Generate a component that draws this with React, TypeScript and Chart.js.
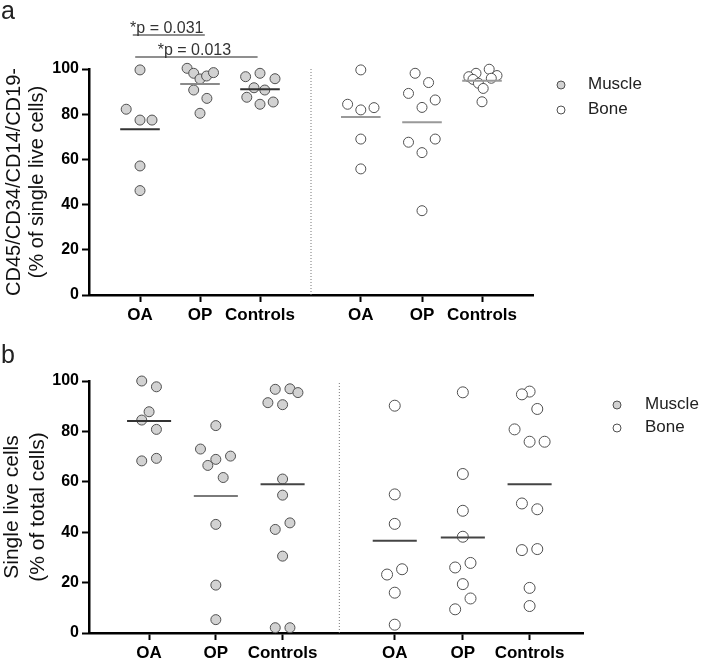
import React, { useEffect, useRef } from 'react';
import { Chart, registerables } from 'chart.js';

Chart.register(...registerables);

const FONT = 'Arial, "Liberation Sans", Helvetica, sans-serif';
Chart.defaults.font.family = FONT;

// ---------- shared categories ----------
const GROUPS = ['OA', 'OP', 'Controls', 'OA', 'OP', 'Controls'];
const GROUP_POS = [1, 2, 3, 4.68, 5.7, 6.7];
const DIVIDER_POS = 3.85;
const SERIES = ['Muscle', 'Bone'];
const Y_TICKS = [0, 20, 40, 60, 80, 100];

// ---------- panel a: CD45/CD34/CD14/CD19- (% of single live cells) ----------
const A_MUSCLE = [
  [99.6, 82.2, 77.4, 77.4, 57.1, 46.2],
  [100.3, 98.1, 95.6, 96.9, 98.4, 90.7, 87.0, 80.4],
  [96.6, 98.1, 95.7, 91.7, 90.7, 87.5, 84.4, 85.4],
];
const A_MUSCLE_JIT = [
  [0, -0.23, 0, 0.2, 0, 0],
  [-0.215, -0.105, 0, 0.11, 0.225, -0.105, 0.115, 0],
  [-0.24, 0, 0.25, -0.1, 0.08, -0.22, 0, 0.22],
];
const A_BONE = [
  [99.6, 84.4, 81.9, 82.9, 69.0, 55.8],
  [98.1, 94.0, 89.2, 86.3, 83.0, 67.6, 69.0, 63.0, 37.3],
  [99.9, 98.1, 96.6, 97.1, 95.4, 95.9, 93.7, 91.4, 85.5],
];
const A_BONE_JIT = [
  [0, -0.22, 0, 0.22, 0, 0],
  [-0.115, 0.11, -0.225, 0.22, 0, -0.225, 0.22, 0, 0],
  [0.12, -0.1, -0.22, 0.25, -0.15, 0.155, -0.06, 0.02, 0],
];
const A_MUSCLE_MEAN = [73.3, 93.4, 91.0];
const A_BONE_MEAN = [78.8, 76.4, 94.8];

// significance annotations (panel a)
const SIG_LABELS = ['*p = 0.031', '*p = 0.013'];
const SIG_X_START = [0.88, 0.92];
const SIG_X_END = [2.08, 2.96];
const SIG_Y = [115.0, 105.3];

// ---------- panel b: Single live cells (% of total cells) ----------
const B_MUSCLE = [
  [100.0, 97.7, 87.8, 84.5, 80.8, 68.3, 69.3],
  [82.3, 73.0, 68.9, 66.5, 70.2, 61.7, 43.1, 19.0, 5.3],
  [96.7, 96.9, 95.4, 91.4, 90.6, 61.1, 54.7, 43.7, 41.1, 30.5, 2.1, 2.1],
];
const B_MUSCLE_JIT = [
  [-0.11, 0.11, 0, -0.11, 0.11, -0.11, 0.11],
  [0, -0.23, 0, -0.12, 0.22, 0.11, 0, 0, 0],
  [-0.11, 0.11, 0.23, -0.22, 0, 0, 0, 0.11, -0.11, 0, -0.11, 0.11],
];
const B_BONE = [
  [90.2, 55.0, 43.3, 23.2, 25.3, 16.0, 3.3],
  [95.5, 63.1, 48.5, 38.2, 26.0, 27.8, 19.4, 13.7, 9.4],
  [95.8, 94.7, 88.9, 80.8, 75.9, 75.9, 51.4, 49.1, 32.9, 33.3, 17.9, 10.7],
];
const B_BONE_JIT = [
  [0, 0, 0, -0.115, 0.11, 0, 0],
  [0, 0, 0, 0, -0.115, 0.115, 0, 0.115, -0.115],
  [0, -0.115, 0.115, -0.225, 0, 0.225, -0.115, 0.115, -0.115, 0.115, 0, 0],
];
const B_MUSCLE_MEAN = [84.1, 54.4, 59.0];
const B_BONE_MEAN = [36.6, 37.9, 59.0];

// ---------- styles ----------
const MUSCLE_FILL = '#d2d2d2';
const BONE_FILL = '#ffffff';
const EDGE = '#505050';
const MEAN_HALF = 0.33;

type PanelCfg = {
  muscle: number[][];
  muscleJit: number[][];
  bone: number[][];
  boneJit: number[][];
  muscleMean: number[];
  boneMean: number[];
  meanColors: string[];
  title: string[];
  titleSize: number;
  titleLH: number;
  titlePad: number;
  xMin: number;
  xMax: number;
  padTop: number;
  padRight: number;
  xAxisHeight: number;
  width: number;
  height: number;
  top: number;
  letter: string;
  letterY: number;
  legendX: number;
  legendY: number[];
  legendGap: number;
  radius: number[];
  sig: boolean;
};

function makePoints(vals: number[][], jit: number[][], offset: number) {
  const pts: { x: number; y: number }[] = [];
  vals.forEach((g, gi) => {
    g.forEach((v, i) => pts.push({ x: GROUP_POS[gi + offset] + jit[gi][i], y: v }));
  });
  return pts;
}

function overlayPlugin(cfg: PanelCfg) {
  return {
    id: 'overlay' + cfg.letter,
    afterDraw(chart: any) {
      const ctx = chart.ctx as CanvasRenderingContext2D;
      const xs = chart.scales.x;
      const ys = chart.scales.y;
      ctx.save();
      // panel letter
      ctx.fillStyle = '#222';
      ctx.font = `25px ${FONT}`;
      ctx.textAlign = 'left';
      ctx.textBaseline = 'alphabetic';
      ctx.fillText(cfg.letter, 1, cfg.letterY);
      // legend
      SERIES.forEach((name, i) => {
        const y = cfg.legendY[i];
        ctx.beginPath();
        ctx.arc(cfg.legendX, y, 4, 0, Math.PI * 2);
        ctx.fillStyle = i === 0 ? MUSCLE_FILL : BONE_FILL;
        ctx.fill();
        ctx.lineWidth = 1;
        ctx.strokeStyle = EDGE;
        ctx.stroke();
        ctx.fillStyle = '#222';
        ctx.font = `17px ${FONT}`;
        ctx.textBaseline = 'middle';
        ctx.textAlign = 'left';
        ctx.fillText(name, cfg.legendX + cfg.legendGap, y - 1);
      });
      // significance labels
      if (cfg.sig) {
        SIG_LABELS.forEach((t, i) => {
          const xc = xs.getPixelForValue((SIG_X_START[i] + SIG_X_END[i]) / 2);
          const yl = ys.getPixelForValue(SIG_Y[i]);
          ctx.font = `16px ${FONT}`;
          ctx.textAlign = 'center';
          ctx.textBaseline = 'alphabetic';
          ctx.fillStyle = '#333';
          ctx.fillText(t, xc - 2, yl - 2.5);
        });
      }
      ctx.restore();
    },
  };
}

function Panel({ cfg }: { cfg: PanelCfg }) {
  const ref = useRef<HTMLCanvasElement | null>(null);
  useEffect(() => {
    if (!ref.current) return;
    const datasets: any[] = [];
    // mean lines (drawn on top -> first)
    const means = [...cfg.muscleMean, ...cfg.boneMean];
    means.forEach((m, gi) => {
      datasets.push({
        type: 'scatter',
        showLine: true,
        data: [
          { x: GROUP_POS[gi] - MEAN_HALF, y: m },
          { x: GROUP_POS[gi] + MEAN_HALF, y: m },
        ],
        borderColor: cfg.meanColors[gi],
        borderWidth: 2,
        pointRadius: 0,
        clip: false,
      });
    });
    // significance bars
    if (cfg.sig) {
      SIG_LABELS.forEach((_, i) => {
        datasets.push({
          type: 'scatter',
          showLine: true,
          data: [
            { x: SIG_X_START[i], y: SIG_Y[i] },
            { x: SIG_X_END[i], y: SIG_Y[i] },
          ],
          borderColor: '#6a6a6a',
          borderWidth: 1.5,
          pointRadius: 0,
          clip: false,
        });
      });
    }
    // points
    datasets.push({
      label: SERIES[0],
      data: makePoints(cfg.muscle, cfg.muscleJit, 0),
      backgroundColor: MUSCLE_FILL,
      borderColor: EDGE,
      borderWidth: 1,
      pointRadius: cfg.radius[0],
      clip: false,
    });
    datasets.push({
      label: SERIES[1],
      data: makePoints(cfg.bone, cfg.boneJit, 3),
      backgroundColor: BONE_FILL,
      borderColor: EDGE,
      borderWidth: 1,
      pointRadius: cfg.radius[1],
      clip: false,
    });
    // divider
    datasets.push({
      type: 'scatter',
      showLine: true,
      data: [
        { x: DIVIDER_POS, y: 0 },
        { x: DIVIDER_POS, y: 100 },
      ],
      borderColor: '#777',
      borderWidth: 1,
      borderDash: [1, 2],
      pointRadius: 0,
    });

    const chart = new Chart(ref.current, {
      type: 'scatter',
      data: { datasets },
      options: {
        responsive: false,
        animation: false,
        events: [],
        layout: { padding: { top: cfg.padTop, right: cfg.padRight, left: 0, bottom: 0 } },
        plugins: { legend: { display: false }, tooltip: { enabled: false } },
        scales: {
          x: {
            type: 'linear',
            min: cfg.xMin,
            max: cfg.xMax,
            afterBuildTicks: (s: any) => {
              s.ticks = GROUP_POS.map((v) => ({ value: v }));
            },
            afterFit: (s: any) => {
              s.height = cfg.xAxisHeight;
            },
            ticks: {
              autoSkip: false,
              maxRotation: 0,
              padding: 3,
              color: '#000',
              font: { size: 17, weight: 'bold' },
              callback: (_v: any, i: number) => GROUPS[i],
            },
            grid: {
              display: true,
              drawOnChartArea: false,
              drawTicks: true,
              tickLength: 7,
              tickColor: '#000',
              tickWidth: 2,
            },
            border: { display: true, color: '#000', width: 2.5 },
          },
          y: {
            type: 'linear',
            min: 0,
            max: 100,
            afterBuildTicks: (s: any) => {
              s.ticks = Y_TICKS.map((v) => ({ value: v }));
            },
            afterFit: (s: any) => {
              s.width = 89;
            },
            ticks: {
              padding: 3,
              color: '#000',
              font: { size: 16, weight: 'bold' },
            },
            grid: {
              display: true,
              drawOnChartArea: false,
              drawTicks: true,
              tickLength: 7,
              tickColor: '#000',
              tickWidth: 2,
            },
            border: { display: true, color: '#000', width: 2.5 },
            title: {
              display: true,
              text: cfg.title,
              color: '#111',
              font: { size: cfg.titleSize, weight: 'normal', lineHeight: cfg.titleLH },
              padding: { top: cfg.titlePad, bottom: 0 },
            },
          },
        },
      },
      plugins: [overlayPlugin(cfg)],
    } as any);
    return () => chart.destroy();
  }, [cfg]);
  return (
    <canvas
      ref={ref}
      width={cfg.width}
      height={cfg.height}
      style={{ position: 'absolute', left: 0, top: cfg.top, width: cfg.width, height: cfg.height, display: 'block' }}
    />
  );
}

const PANEL_A: PanelCfg = {
  muscle: A_MUSCLE,
  muscleJit: A_MUSCLE_JIT,
  bone: A_BONE,
  boneJit: A_BONE_JIT,
  muscleMean: A_MUSCLE_MEAN,
  boneMean: A_BONE_MEAN,
  meanColors: ['#333', '#8a8a8a', '#333', '#999', '#999', '#999'],
  title: ['CD45/CD34/CD14/CD19-', '(% of single live cells)'],
  titleSize: 20,
  titleLH: 1.15,
  titlePad: 2.5,
  xMin: 0.15,
  xMax: 7.55,
  padTop: 69,
  padRight: 176,
  xAxisHeight: 35,
  width: 709,
  height: 330,
  top: 0,
  letter: 'a',
  letterY: 19,
  legendX: 561,
  legendY: [85, 110],
  legendGap: 27,
  radius: [5, 5],
  sig: true,
};

const PANEL_B: PanelCfg = {
  muscle: B_MUSCLE,
  muscleJit: B_MUSCLE_JIT,
  bone: B_BONE,
  boneJit: B_BONE_JIT,
  muscleMean: B_MUSCLE_MEAN,
  boneMean: B_BONE_MEAN,
  meanColors: ['#333', '#7a7a7a', '#444', '#444', '#444', '#444'],
  title: ['Single live cells', '(% of total cells)'],
  titleSize: 21,
  titleLH: 1.2,
  titlePad: 0,
  xMin: 0.1,
  xMax: 7.5,
  padTop: 51,
  padRight: 126,
  xAxisHeight: 28,
  width: 709,
  height: 331,
  top: 330,
  letter: 'b',
  letterY: 33,
  legendX: 617,
  legendY: [75, 98],
  legendGap: 28,
  radius: [5, 5.5],
  sig: false,
};

export default function App() {
  return (
    <div style={{ position: 'absolute', left: 0, top: 0, width: 709, height: 661, background: '#fff', overflow: 'hidden' }}>
      <Panel cfg={PANEL_A} />
      <Panel cfg={PANEL_B} />
    </div>
  );
}
